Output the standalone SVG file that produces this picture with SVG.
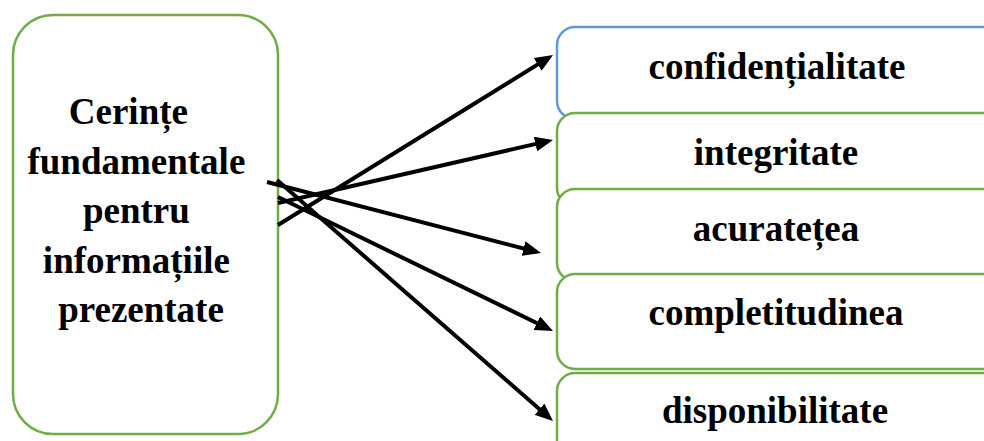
<svg xmlns="http://www.w3.org/2000/svg" width="984" height="441" viewBox="0 0 984 441">
  <style>
    .box { fill: #ffffff; stroke-width: 2.5; }
    .green { stroke: #70ad47; }
    .blue { stroke: #5b9bd5; }
    .label { font-family: "Liberation Serif", "Times New Roman", serif; font-weight: bold; font-size: 37px; fill: #000000; text-anchor: middle; }
    .arrow { stroke: #000000; stroke-width: 4; fill: none; marker-end: url(#head); }
  </style>
  <defs>
    <marker id="head" markerUnits="userSpaceOnUse" viewBox="0 0 18 15" markerWidth="18" markerHeight="15" refX="13" refY="7.5" orient="auto">
      <path d="M0,0 L18,7.5 L0,15 Z" fill="#000000"/>
    </marker>
  </defs>

  <rect width="984" height="441" fill="#ffffff"/>

  <!-- source node -->
  <g id="node-cerinte">
    <rect class="box green" x="13" y="15" width="265" height="419" rx="40" ry="40"/>
    <text class="label">
      <tspan x="133" y="124">Cerințe</tspan>
      <tspan x="141" y="174">fundamentale</tspan>
      <tspan x="141" y="223">pentru</tspan>
      <tspan x="141" y="273">informațiile</tspan>
      <tspan x="141" y="322">prezentate</tspan>
    </text>
  </g>

  <!-- target nodes, stacked so each one overlaps the one above -->
  <g id="node-confidentialitate">
    <rect class="box blue" x="557" y="27" width="450" height="92" rx="18" ry="18"/>
    <text class="label" x="777" y="79">confidențialitate</text>
  </g>
  <g id="node-integritate">
    <rect class="box green" x="557" y="113" width="450" height="93" rx="18" ry="18"/>
    <text class="label" x="776" y="165">integritate</text>
  </g>
  <g id="node-acuratetea">
    <rect class="box green" x="557" y="189" width="450" height="92" rx="18" ry="18"/>
    <text class="label" x="776" y="241">acuratețea</text>
  </g>
  <g id="node-completitudinea">
    <rect class="box green" x="557" y="274" width="450" height="95" rx="18" ry="18"/>
    <text class="label" x="776" y="325">completitudinea</text>
  </g>
  <g id="node-disponibilitate">
    <rect class="box green" x="557" y="373" width="450" height="95" rx="18" ry="18"/>
    <text class="label" x="775" y="423">disponibilitate</text>
  </g>

  <!-- connectors -->
  <g id="connectors">
    <line class="arrow" x1="278" y1="225" x2="548.75" y2="57.63"/>
    <line class="arrow" x1="278" y1="203" x2="548.13" y2="141.12"/>
    <line class="arrow" x1="267" y1="182" x2="536.16" y2="251.75"/>
    <line class="arrow" x1="278" y1="197" x2="548.5" y2="328.8"/>
    <line class="arrow" x1="277" y1="180" x2="549.23" y2="417.71"/>
  </g>
</svg>
